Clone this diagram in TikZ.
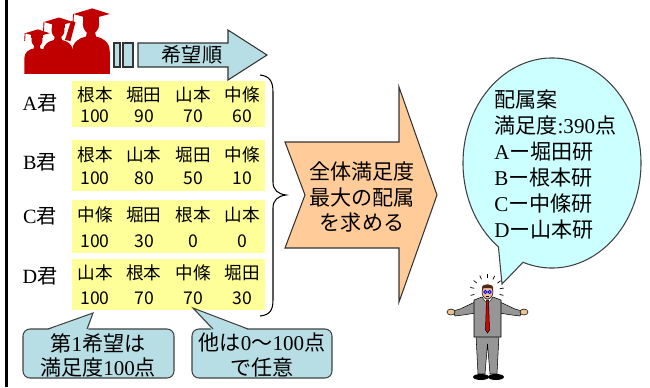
\documentclass[tikz,border=0pt]{standalone}
\usepackage{fontspec}
\setmainfont{Noto Sans CJK JP}
\newfontfamily\romanfont{Liberation Serif}
\usepackage{xcolor}
\usepackage{tikz}
\usetikzlibrary{calc}
\definecolor{gradred}{RGB}{192,0,0}
\definecolor{rankblue}{RGB}{183,222,228}
\definecolor{prefyellow}{RGB}{255,255,153}
\definecolor{solveorange}{RGB}{255,204,153}
\definecolor{bubblecyan}{RGB}{204,255,255}
\definecolor{suitgray}{RGB}{150,150,150}
\definecolor{skin}{RGB}{238,192,150}
\definecolor{hair}{RGB}{80,40,20}

\tikzset{
  prefbox/.style={fill=prefyellow},
  pref/.style={font=\fontsize{10}{12}\selectfont, inner sep=0pt},
  student/.style={font=\fontsize{11.5}{13}\selectfont, inner sep=0pt},
  rankarrow/.style={fill=rankblue, draw=black!80, line width=0.6pt},
  solve/.style={fill=solveorange, draw=black!80, line width=0.6pt},
  bubble/.style={fill=bubblecyan, draw=black!75, line width=0.6pt},
  callout/.style={fill=rankblue, draw=black!75, line width=0.6pt},
  bigtext/.style={font=\fontsize{12}{14.3}\selectfont, inner sep=0pt},
  suit/.style={fill=suitgray, draw=black, line width=0.3pt},
}

% one graduate: head centre, scale
\newcommand\gradfigure[3]{%
  \begin{scope}[shift={(#1,#2)}, scale=#3]
    \fill[gradred] (0,0) ellipse [x radius=6.5, y radius=8];
    \fill[gradred] (-15,70) -- (-15,22) .. controls (-15,14) and (-9,11) .. (-4,10)
      -- (-3,5) -- (3,5) -- (4,10) .. controls (9,11) and (15,14) .. (15,22) -- (15,70) -- cycle;
    \fill[gradred] (-14,-8) -- (1,-12.5) -- (15,-8) -- (0,-4) -- cycle;
    \fill[gradred] (-6.5,-8) rectangle (6.5,-2);
    \draw[gradred, line width=0.5pt] (-14,-8) -- (-14.5,1);
  \end{scope}}

\begin{document}
\begin{tikzpicture}[x=0.02cm, y=-0.02cm]
\useasboundingbox (0,0) rectangle (650,387);

% left rule
\draw[line width=1.4pt] (6.5,0) -- (6.5,387);

% graduates
\begin{scope}
  \clip (0,0) rectangle (130,73);
  \gradfigure{37}{40}{0.85}
  \gradfigure{58}{30}{1.0}
  \fill[gradred] (65,40) -- (71,21) -- (75.5,22) -- (70.5,41) -- cycle;
  \gradfigure{91}{24}{1.25}
\end{scope}

% preference order arrow
\draw[rankarrow] (114,43) rectangle (120,67);
\draw[rankarrow] (123,43) rectangle (133,67);
\draw[rankarrow] (138,43) -- (228,43) -- (228,30) -- (267,55) -- (228,80) -- (228,67) -- (138,67) -- cycle;
\node[student] (order) at (192,55) {希望順};

% students and their wishes
\foreach \lab/\ytop/\ybot/\ylab/\yname/\yval/\names/\vals in {
  A/81/127/103/95/116/{根本,堀田,山本,中條}/{100,90,70,60},
  B/140/191/162/155/178/{根本,山本,堀田,中條}/{100,80,50,10},
  C/200/253/216/215/241/{中條,堀田,根本,山本}/{100,30,0,0},
  D/259/310/276/273/298/{山本,根本,中條,堀田}/{100,70,70,30}}
{
  \fill[prefbox] (72,\ytop) rectangle (265,\ybot);
  \node[student] (lab-\lab) at (40,\ylab) {{\romanfont\lab}君};
  \foreach \n [count=\i] in \names
    \node[pref] (n-\lab-\i) at ({46+49*\i},\yname) {\n};
  \foreach \v [count=\i] in \vals
    \node[pref] (v-\lab-\i) at ({46+49*\i},\yval) {\v};
}

% brace
\draw[line width=0.6pt] (260,75) .. controls (270,76) and (273,82) .. (273,92) -- (273,182)
  .. controls (273,190) and (278,194) .. (286,195) .. controls (278,196) and (273,200) .. (273,208)
  -- (273,300) .. controls (273,310) and (270,315) .. (260,316);

% optimisation arrow
\draw[solve] (285,142) -- (399,142) -- (399,87) -- (437,195) -- (399,302) -- (399,248) -- (285,248) -- (305,195) -- cycle;
\node[bigtext, align=center] (solve) at (362,197) {全体満足度\\最大の配属\\を求める};

% speech bubble
\draw[bubble] ($(552,163)+(109:89 and 105)$) arc[start angle=109, end angle=-233, x radius=89, y radius=105]
  -- (502,284) -- cycle;
\node[bigtext, align=left, anchor=west, font=\fontsize{12}{14.8}\selectfont] (plan) at (494,165)
  {配属案\\満足度{\romanfont :390}点\\{\romanfont A}ー堀田研\\{\romanfont B}ー根本研\\{\romanfont C}ー中條研\\{\romanfont D}ー山本研};

% man
\foreach \a in {165,192,218,245,270,297,323,350,15}
  \draw[line width=0.4pt] ($(487,291)+(\a:13)$) -- ($(487,291)+(\a:17)$);
\draw[suit] (476,335) -- (499,335) -- (497,374) -- (490,374) -- (487.5,344) -- (485,374) -- (478,374) -- cycle;
\fill (481,377) ellipse [x radius=8, y radius=3];
\fill (496,377) ellipse [x radius=8, y radius=3];
\draw[suit] (475,302) -- (460,309) -- (453,311) -- (455,316) -- (463,315) -- (476,313) -- cycle;
\draw[suit] (500,302) -- (515,309) -- (522,311) -- (520,316) -- (512,315) -- (499,313) -- cycle;
\draw[fill=skin, line width=0.3pt] (451,312) ellipse [x radius=4, y radius=3];
\draw[fill=skin, line width=0.3pt] (524,312) ellipse [x radius=4, y radius=3];
\draw[suit] (474,300) -- (482,297) -- (487.5,304) -- (493,297) -- (501,300) -- (501,337) -- (474,337) -- cycle;
\fill[white] (483,297.5) -- (492,297.5) -- (487.5,304) -- cycle;
\draw[fill=red!85!black, line width=0.3pt] (486.5,300) -- (488.5,300) -- (489.5,330) -- (487.5,333) -- (485.5,330) -- cycle;
\draw[fill=skin, line width=0.3pt] (487.5,292) ellipse [x radius=5.5, y radius=7];
\fill[hair] (482,291) -- (482,287) .. controls (482.5,283.5) and (492.5,283.5) .. (493,287) -- (493,291) -- (491.5,288) -- (483.5,288) -- cycle;
\draw[blue, line width=0.5pt] (485.3,292) circle [radius=1.6] (489.7,292) circle [radius=1.6];
\draw[line width=0.3pt] (486,296) -- (489,296);

% callouts
\draw[callout, rounded corners=4pt] (23,329) rectangle (174,378);
\fill[rankblue] (47,330.2) -- (93,313) -- (88,330.2) -- cycle;
\draw[callout, fill=none] (48,329) -- (93,313) -- (87,329);
\node[bigtext, align=center, font=\fontsize{12}{13.7}\selectfont] (first) at (98,355)
  {第{\romanfont 1}希望は\\満足度{\romanfont 100}点};

\draw[callout, rounded corners=4pt] (192,329) rectangle (332,378);
\fill[rankblue] (212,330.2) -- (193,308) -- (249,330.2) -- cycle;
\draw[callout, fill=none] (213,329) -- (193,308) -- (248,329);
\node[bigtext, align=center, font=\fontsize{12}{13.7}\selectfont] (other) at (262,355)
  {他は{\romanfont 0}〜{\romanfont 100}点\\で任意};
\end{tikzpicture}
\end{document}
